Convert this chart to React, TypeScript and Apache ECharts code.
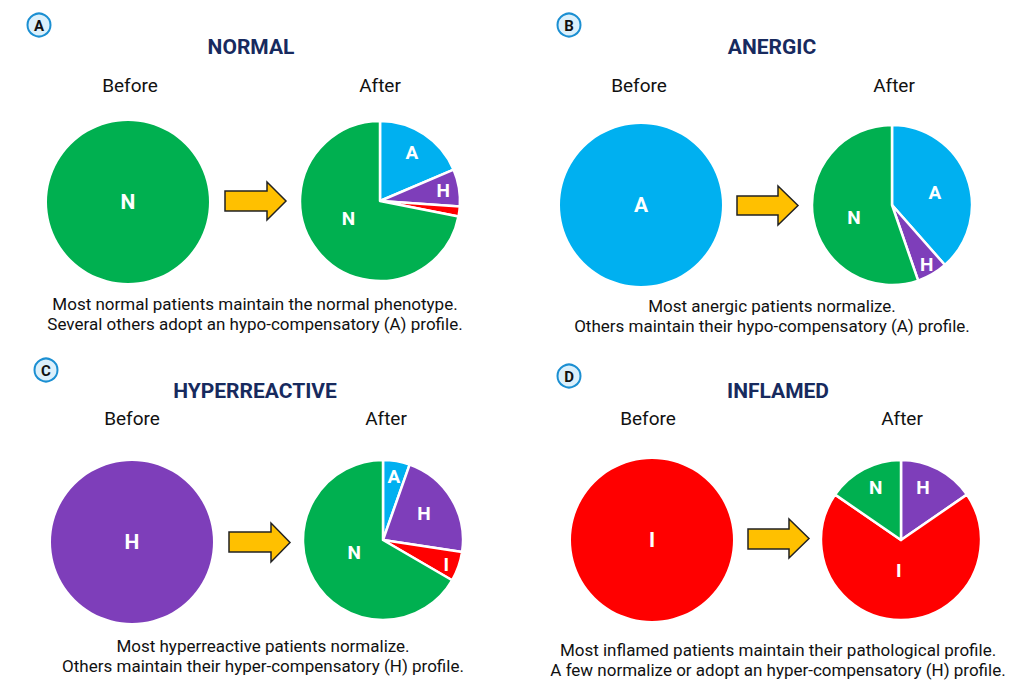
import React, { useEffect, useRef } from "react";
import * as echarts from "echarts";

// ---- Data ----
const panelLetters = ["A", "B", "C", "D"];
const panelTitles = ["NORMAL", "ANERGIC", "HYPERREACTIVE", "INFLAMED"];
const beforeCategories = ["N", "A", "H", "I"];
const beforeValues = [100, 100, 100, 100];

const afterCategoriesA = ["A", "H", "I", "N"];
const afterValuesA = [18.6, 7.5, 2, 71.9];
const afterCategoriesB = ["A", "H", "N"];
const afterValuesB = [38.5, 6.2, 55.3];
const afterCategoriesC = ["A", "H", "I", "N"];
const afterValuesC = [5.4, 22, 6, 66.6];
const afterCategoriesD = ["H", "I", "N"];
const afterValuesD = [15.4, 69.2, 15.4];

const captions = [
  ["Most normal patients maintain the normal phenotype.", "Several others adopt an hypo-compensatory (A) profile."],
  ["Most anergic patients normalize.", "Others maintain their hypo-compensatory (A) profile."],
  ["Most hyperreactive patients normalize.", "Others maintain their hyper-compensatory (H) profile."],
  ["Most inflamed patients maintain their pathological profile.", "A few normalize or adopt an hyper-compensatory (H) profile."],
];

// ---- Styles / layout ----
const colorMap: Record<string, string> = {
  N: "#00B050",
  A: "#00B0F0",
  H: "#7E3EBA",
  I: "#FF0000",
};
const FONT = "Roboto, 'Noto Sans', sans-serif";

type Panel = {
  badge: [number, number];
  title: [number, number];
  before: [number, number];
  after: [number, number];
  pieBefore: [number, number];
  pieAfter: [number, number];
  arrow: [number, number, number, number, number, number, number]; // x0, xHead, xTip, bodyTop, bodyBot, headTop, headBot
  caption: [number, number, number];
};

const panels: Panel[] = [
  { badge: [39, 25], title: [251, 47], before: [130, 85], after: [380, 85], pieBefore: [128, 202], pieAfter: [380, 201], arrow: [225, 267, 286, 191, 211, 182, 220], caption: [255, 304, 324] },
  { badge: [569, 25], title: [772, 47], before: [639, 85], after: [894, 85], pieBefore: [641, 205], pieAfter: [892, 205], arrow: [737, 778, 798, 196, 215, 186, 225], caption: [772, 306, 326] },
  { badge: [46, 370], title: [255, 391], before: [132, 418], after: [386, 418], pieBefore: [132, 542], pieAfter: [383, 540], arrow: [229, 271, 290, 532, 552, 523, 562], caption: [263, 646, 666] },
  { badge: [569, 376], title: [778, 391], before: [648, 418], after: [902, 418], pieBefore: [652, 540], pieAfter: [901, 540], arrow: [748, 789, 809, 529, 549, 519, 558], caption: [778, 650, 670] },
];

// label placement per after-slice: [radius fraction, angle offset deg]
const labelPlacement: Array<Array<[number, number] | null>> = [
  [[0.72, 0], [0.8, 0], null, [0.45, 11]],
  [[0.56, 4], [0.86, 0], [0.5, -9]],
  [[0.8, 0], [0.61, -2], [0.85, 2], [0.39, 7]],
  [[0.71, -5], [0.38, 4], [0.73, 2]],
];

const R_BEFORE = 81;
const R_AFTER = 80;

const afterCats = [afterCategoriesA, afterCategoriesB, afterCategoriesC, afterCategoriesD];
const afterVals = [afterValuesA, afterValuesB, afterValuesC, afterValuesD];

export default function App() {
  const ref = useRef<HTMLDivElement>(null);
  useEffect(() => {
    if (!ref.current) return;
    const chart = echarts.init(ref.current, undefined, { renderer: "svg" });

    const series: any[] = [];
    panels.forEach((p, i) => {
      series.push({
        type: "pie",
        name: "before" + i,
        center: p.pieBefore,
        radius: R_BEFORE,
        silent: true,
        avoidLabelOverlap: false,
        label: { show: true, position: "center", color: "#fff", fontSize: 21, fontWeight: "bold", fontFamily: FONT },
        labelLine: { show: false },
        itemStyle: { borderWidth: 0 },
        data: [{ name: beforeCategories[i], value: beforeValues[i], itemStyle: { color: colorMap[beforeCategories[i]] } }],
      });
    });
    panels.forEach((p, i) => {
      series.push({
        type: "pie",
        name: "after" + i,
        center: p.pieAfter,
        radius: R_AFTER,
        startAngle: 90,
        clockwise: true,
        silent: true,
        avoidLabelOverlap: false,
        label: { show: true, position: "inside", color: "#fff", fontSize: 19, fontWeight: "bold", fontFamily: FONT, formatter: "{b}" },
        labelLine: { show: false },
        itemStyle: { borderColor: "#fff", borderWidth: 2.5 },
        data: afterCats[i].map((c, j) => ({
          name: c,
          value: afterVals[i][j],
          itemStyle: { color: colorMap[c] },
          label: { show: labelPlacement[i][j] != null },
        })),
      });
    });

    const labelLayout = (params: any) => {
      const si = params.seriesIndex;
      if (si < 4) return {};
      const pi = si - 4;
      const place = labelPlacement[pi][params.dataIndex];
      if (!place) return {};
      const [cx, cy] = panels[pi].pieAfter;
      const r = params.labelRect;
      const lx = r.x + r.width / 2;
      const ly = r.y + r.height / 2;
      const th = Math.atan2(ly - cy, lx - cx) + (place[1] * Math.PI) / 180;
      const tx = cx + R_AFTER * place[0] * Math.cos(th);
      const ty = cy + R_AFTER * place[0] * Math.sin(th);
      return { dx: tx - lx, dy: ty - ly };
    };
    series.forEach((s) => (s.labelLayout = labelLayout));

    const graphic: any[] = [];
    panels.forEach((p, i) => {
      graphic.push({
        type: "circle",
        shape: { cx: p.badge[0], cy: p.badge[1], r: 11.5 },
        style: { fill: "#dcf0fb", stroke: "#1b8fd2", lineWidth: 2 },
        silent: true,
      });
      graphic.push({
        type: "text",
        x: p.badge[0],
        y: p.badge[1] + 1,
        style: { text: panelLetters[i], fill: "#111", font: `bold 15px ${FONT}`, align: "center", verticalAlign: "middle" },
        silent: true,
      });
      graphic.push({
        type: "text",
        x: p.title[0],
        y: p.title[1],
        style: { text: panelTitles[i], fill: "#172a5e", font: `bold 21px ${FONT}`, align: "center", verticalAlign: "middle" },
        silent: true,
      });
      graphic.push({
        type: "text",
        x: p.before[0],
        y: p.before[1],
        style: { text: "Before", fill: "#111", font: `19px ${FONT}`, align: "center", verticalAlign: "middle" },
        silent: true,
      });
      graphic.push({
        type: "text",
        x: p.after[0],
        y: p.after[1],
        style: { text: "After", fill: "#111", font: `19px ${FONT}`, align: "center", verticalAlign: "middle" },
        silent: true,
      });
      const [x0, xh, xt, bt, bb, ht, hb] = p.arrow;
      const my = (ht + hb) / 2;
      graphic.push({
        type: "polygon",
        shape: { points: [[x0, bt], [xh, bt], [xh, ht], [xt, my], [xh, hb], [xh, bb], [x0, bb]] },
        style: { fill: "#FFC000", stroke: "#222", lineWidth: 1.5, lineJoin: "miter" },
        silent: true,
      });
      captions[i].forEach((line, k) => {
        graphic.push({
          type: "text",
          x: p.caption[0],
          y: p.caption[1 + k],
          style: { text: line, fill: "#111", font: `17px ${FONT}`, align: "center", verticalAlign: "middle" },
          silent: true,
        });
      });
    });

    chart.setOption({
      animation: false,
      backgroundColor: "#fff",
      series,
      graphic: { elements: graphic },
    });
    return () => chart.dispose();
  }, []);
  return <div ref={ref} style={{ position: "fixed", left: 0, top: 0, width: 1013, height: 691 }} />;
}
